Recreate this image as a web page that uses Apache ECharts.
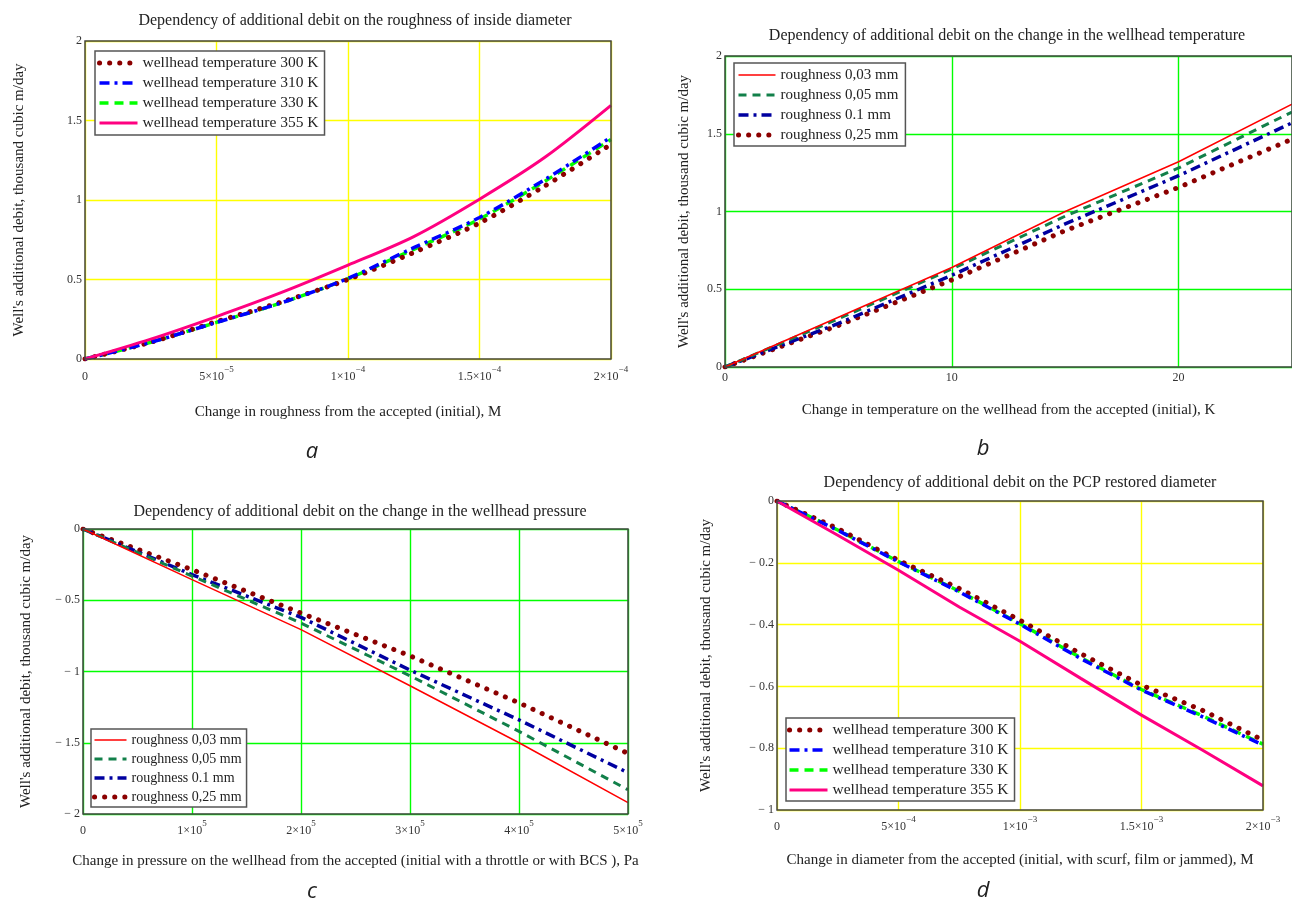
<!DOCTYPE html>
<html><head><meta charset="utf-8">
<script src="https://cdn.jsdelivr.net/npm/echarts@6/dist/echarts.min.js"></script>
<style>html,body{margin:0;padding:0;background:#fff}#c{width:1292px;height:899px}</style>
</head><body><div id="c"></div>
<script>
// ---------- DATA ----------
// Panel a: additional debit vs roughness change (M)
const aX = [0, 2.5e-5, 5e-5, 7.5e-5, 1e-4, 1.25e-4, 1.5e-4, 1.75e-4, 2e-4];
const a300 = [0, 0.105, 0.235, 0.36, 0.50, 0.67, 0.855, 1.09, 1.35];
const a310 = [0, 0.105, 0.23, 0.355, 0.507, 0.70, 0.89, 1.13, 1.395];
const a330 = [0, 0.105, 0.23, 0.355, 0.505, 0.69, 0.88, 1.12, 1.38];
const a355 = [0, 0.125, 0.267, 0.42, 0.59, 0.77, 1.005, 1.27, 1.595];
// Panel b: additional debit vs wellhead temperature change (K)
const bX = [0, 5, 10, 15, 20, 25];
const b003 = [0, 0.32, 0.64, 1.0, 1.32, 1.69];
const b005 = [0, 0.31, 0.63, 0.97, 1.28, 1.64];
const b010 = [0, 0.28, 0.59, 0.92, 1.23, 1.57];
const b025 = [0, 0.267, 0.56, 0.877, 1.155, 1.465];
// Panel c: additional debit vs wellhead pressure change (Pa)
const cX = [0, 1e5, 2e5, 3e5, 4e5, 5e5];
const c003 = [0, -0.355, -0.706, -1.10, -1.50, -1.92];
const c005 = [0, -0.33, -0.66, -1.03, -1.42, -1.83];
const c010 = [0, -0.32, -0.62, -0.99, -1.34, -1.71];
const c025 = [0, -0.285, -0.59, -0.89, -1.22, -1.575];
// Panel d: additional debit vs PCP restored diameter change (M)
const dX = [0, 2.5e-4, 5e-4, 7.5e-4, 1e-3, 1.25e-3, 1.5e-3, 1.75e-3, 2e-3];
const d300 = [0, -0.089, -0.192, -0.283, -0.386, -0.494, -0.596, -0.677, -0.774];
const d310 = [0, -0.095, -0.197, -0.294, -0.399, -0.51, -0.612, -0.698, -0.79];
const d330 = [0, -0.094, -0.196, -0.292, -0.397, -0.507, -0.61, -0.695, -0.787];
const d355 = [0, -0.111, -0.224, -0.343, -0.454, -0.574, -0.693, -0.806, -0.922];

const namesT = ['wellhead temperature 300 K','wellhead temperature 310 K','wellhead temperature 330 K','wellhead temperature 355 K'];
const namesR = ['roughness 0,03 mm','roughness 0,05 mm','roughness 0.1 mm','roughness 0,25 mm'];

// ---------- STYLE ----------
const FONT = 'Liberation Serif';
const sDot = {color:'#8b0000', width:5, type:[0.1,10], cap:'round'};
const sBlue = {color:'#0000ff', width:3.5, type:[10,5,3,5]};
const sGreen = {color:'#00ff00', width:3.5, type:[9,6]};
const sPink = {color:'#ff0080', width:3};
const sRed = {color:'#ff0000', width:1.5};
const sSea = {color:'#12804a', width:3, type:[8,6]};
const sNavy = {color:'#0000a0', width:3.5, type:[10,5,3,5]};
const stT = [sDot, sBlue, sGreen, sPink];
const stR = [sRed, sSea, sNavy, sDot];

const GRIDS = [
  {left:85, top:41, width:526, height:318},
  {left:725, top:56, width:567, height:311},
  {left:83, top:529, width:545, height:285},
  {left:777, top:501, width:486, height:309}
];

function supLabel(v){
  if (Math.abs(v) < 1e-15) return '{b|0}';
  const e = Math.floor(Math.log10(Math.abs(v)) + 1e-9);
  const m = Math.round(v / Math.pow(10, e) * 100) / 100;
  return '{b|' + m + '×10}{s|' + (e < 0 ? '−' + (-e) : e) + '}';
}
function yLab(v){
  const r = Math.round(v * 1000) / 1000;
  return r < 0 ? '− ' + Math.abs(r) : String(r);
}
const rich = {
  b:{fontSize:12, fontFamily:FONT, color:'#333', lineHeight:18, verticalAlign:'bottom'},
  s:{fontSize:9, fontFamily:FONT, color:'#333', lineHeight:10, verticalAlign:'top'}
};

function xAx(gi, min, max, interval, gridColor, name, gap, sup, margin){
  return {type:'value', gridIndex:gi, min, max, interval,
    name, nameLocation:'middle', nameGap:gap,
    nameTextStyle:{fontFamily:FONT, fontSize:15, color:'#222'},
    axisLine:{show:false}, axisTick:{show:false},
    splitLine:{show:true, lineStyle:{color:gridColor, width:1.4}},
    axisLabel:{margin, showMaxLabel: gi===1 ? false : true, showMinLabel:true,
      formatter: sup ? supLabel : (v)=>String(v), rich,
      fontFamily:FONT, fontSize:12, color:'#333'}};
}
function yAx(gi, min, max, interval, gridColor, gap){
  return {type:'value', gridIndex:gi, min, max, interval,
    name:"Well's additional debit, thousand cubic m/day", nameLocation:'middle', nameGap:gap,
    nameTextStyle:{fontFamily:FONT, fontSize:15, color:'#222'},
    axisLine:{show:false}, axisTick:{show:false},
    splitLine:{show:true, lineStyle:{color:gridColor, width:1.4}},
    axisLabel:{margin:3, formatter:yLab, fontFamily:FONT, fontSize:12, color:'#333'}};
}
function ser(name, xs, ys, gi, st, smooth){
  return {name, type:'line', xAxisIndex:gi, yAxisIndex:gi,
    data: xs.map((x,i)=>[x, ys[i]]), symbol:'none', smooth: smooth || false,
    lineStyle: st, itemStyle:{color:st.color}, emphasis:{disabled:true}, silent:true};
}
function leg(names, styles, left, top, fs, gap, pad, iw){
  return {data:names.map((n,i)=>({name:n, lineStyle:{width:styles[i].width}})),
    orient:'vertical', left, top, itemWidth:iw, itemHeight:14, itemGap:gap,
    padding:pad, backgroundColor:'#fff', borderColor:'#555', borderWidth:1.5, borderRadius:0,
    itemStyle:{opacity:0, borderWidth:0},
    textStyle:{fontFamily:FONT, fontSize:fs, color:'#222', lineHeight:16}, selectedMode:false, z:20};
}
const frames = GRIDS.map(g => ({type:'rect', z:100, silent:true,
  shape:{x:g.left, y:g.top, width:g.width, height:g.height},
  style:{fill:null, stroke:'#444', lineWidth:1.5}}));

const chart = echarts.init(document.getElementById('c'));
chart.setOption({
  animation:false,
  backgroundColor:'#fff',
  grid: GRIDS.map(g => Object.assign({show:false, containLabel:false, outerBoundsMode:'none'}, g)),
  xAxis:[
    xAx(0, 0, 2e-4, 5e-5, '#ffff00', 'Change in roughness from the accepted (initial), M', 46, true, 6),
    xAx(1, 0, 25, 10, '#00ff00', 'Change in temperature on the wellhead from the accepted (initial), K', 36, false, 5),
    xAx(2, 0, 5e5, 1e5, '#00ff00', 'Change in pressure on the wellhead from the accepted (initial with a throttle or with BCS ), Pa', 40, true, 5),
    xAx(3, 0, 2e-3, 5e-4, '#ffff00', 'Change in diameter from the accepted (initial, with scurf, film or jammed), M', 43, true, 5)
  ],
  yAxis:[
    yAx(0, 0, 2, 0.5, '#ffff00', 58),
    yAx(1, 0, 2, 0.5, '#00ff00', 33),
    yAx(2, -2, 0, 0.5, '#00ff00', 49),
    yAx(3, -1, 0, 0.2, '#ffff00', 63)
  ],
  legend:[
    leg(namesT, stT, 95, 51, 15.5, 4, [4,6,4,2], 38),
    leg(namesR, stR, 734, 63, 15, 4, [4,7,3,2], 37),
    leg(namesR, stR, 91, 729, 14, 3, [3,5,2,1], 32),
    leg(namesT, stT, 786, 718, 15.5, 4, [4,6,3,1], 38)
  ],
  series:[
    ser(namesT[2], aX, a330, 0, sGreen, 0.3),
    ser(namesT[0], aX, a300, 0, sDot, 0.3),
    ser(namesT[1], aX, a310, 0, sBlue, 0.3),
    ser(namesT[3], aX, a355, 0, sPink, 0.3),

    ser(namesR[3], bX, b025, 1, sDot),
    ser(namesR[2], bX, b010, 1, sNavy),
    ser(namesR[1], bX, b005, 1, sSea),
    ser(namesR[0], bX, b003, 1, sRed),

    ser(namesR[3], cX, c025, 2, sDot),
    ser(namesR[2], cX, c010, 2, sNavy),
    ser(namesR[1], cX, c005, 2, sSea),
    ser(namesR[0], cX, c003, 2, sRed),

    ser(namesT[2], dX, d330, 3, sGreen),
    ser(namesT[0], dX, d300, 3, sDot),
    ser(namesT[1], dX, d310, 3, sBlue),
    ser(namesT[3], dX, d355, 3, sPink)
  ],
  graphic: frames.concat([
    {type:'text', x:355, y:21, style:{text:'Dependency of additional debit on the roughness of inside diameter', font:'16px "Liberation Serif"', fill:'#222', align:'center', verticalAlign:'middle'}},
    {type:'text', x:1007, y:36, style:{text:'Dependency of additional debit on the change in the wellhead temperature', font:'16px "Liberation Serif"', fill:'#222', align:'center', verticalAlign:'middle'}},
    {type:'text', x:360, y:512, style:{text:'Dependency of additional debit on the change in the wellhead pressure', font:'16px "Liberation Serif"', fill:'#222', align:'center', verticalAlign:'middle'}},
    {type:'text', x:1020, y:483, style:{text:'Dependency of additional debit on the PCP restored diameter', font:'16px "Liberation Serif"', fill:'#222', align:'center', verticalAlign:'middle'}},
    {type:'text', x:312, y:452, style:{text:'a', font:'italic 22px "Open Sans"', fill:'#222', align:'center', verticalAlign:'middle'}},
    {type:'text', x:983, y:449, style:{text:'b', font:'italic 22px "Open Sans"', fill:'#222', align:'center', verticalAlign:'middle'}},
    {type:'text', x:312, y:892, style:{text:'c', font:'italic 22px "Open Sans"', fill:'#222', align:'center', verticalAlign:'middle'}},
    {type:'text', x:983, y:891, style:{text:'d', font:'italic 22px "Open Sans"', fill:'#222', align:'center', verticalAlign:'middle'}}
  ])
});
</script></body></html>
